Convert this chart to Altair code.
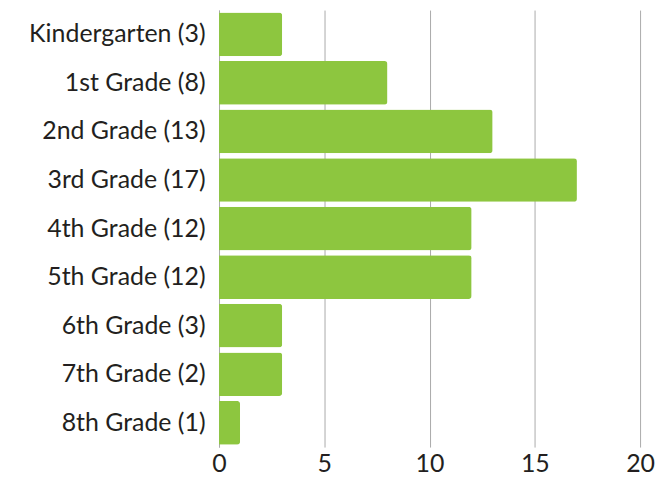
import altair as alt
import pandas as pd

grades = ["Kindergarten", "1st Grade", "2nd Grade", "3rd Grade", "4th Grade",
          "5th Grade", "6th Grade", "7th Grade", "8th Grade"]
label_counts = [3, 8, 13, 17, 12, 12, 3, 2, 1]
bar_values = [3, 8, 13, 17, 12, 12, 3, 3, 1]

labels = [f"{g} ({c})" for g, c in zip(grades, label_counts)]
df = pd.DataFrame({"label": labels, "value": bar_values})

FONT = "Lato"

chart = alt.Chart(df).mark_bar(
    color="#8DC63F", cornerRadiusTopRight=3, cornerRadiusBottomRight=3
).encode(
    y=alt.Y("label:N", sort=labels,
            scale=alt.Scale(paddingInner=0.1, paddingOuter=0.05),
            axis=alt.Axis(title=None, ticks=False, domain=True, domainColor="#aaaaaa",
                          labelFontSize=25, labelFont=FONT, labelColor="#231f20",
                          labelPadding=14, grid=False, labelLimit=300)),
    x=alt.X("value:Q", scale=alt.Scale(domain=[0, 20], nice=False),
            axis=alt.Axis(title=None, values=[0, 5, 10, 15, 20], ticks=False, domain=False,
                          grid=True, gridColor="#aaaaaa", gridWidth=1,
                          labelFontSize=25, labelFont=FONT, labelColor="#231f20",
                          labelPadding=5, labelFlush=False)),
).properties(
    width=423, height=439, padding={"left": 20, "top": 1, "right": 0, "bottom": 0}
).configure_view(stroke=None)

chart.save("out.html", embed_options={"renderer": "svg", "actions": False})
